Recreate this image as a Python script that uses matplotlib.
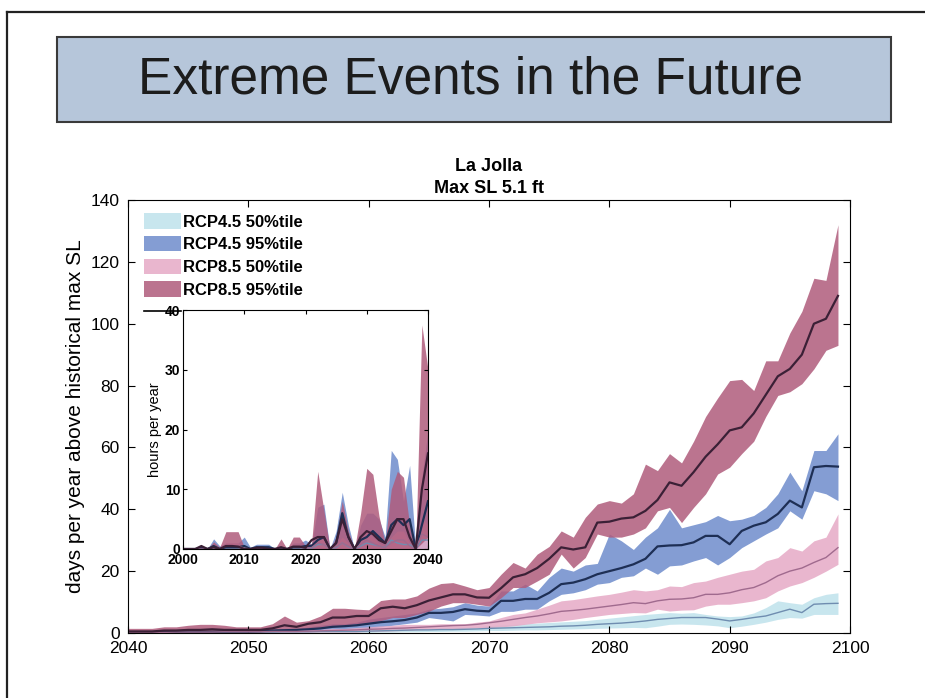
import numpy as np
import matplotlib.pyplot as plt
from matplotlib.patches import Rectangle
from matplotlib.lines import Line2D

plt.rcParams['font.family'] = ['Liberation Sans', 'DejaVu Sans']

# ---------------- main panel data: days per year, 2040-2099 ----------------
years = np.arange(2040, 2100)

# RCP8.5 95th percentile band + median
r95_hi = [1.5, 1.5, 1.5, 2.0, 2.0, 2.5, 2.8, 2.8, 2.5, 2.0,
          2.0, 2.0, 3.0, 5.5, 3.5, 4.0, 5.5, 8.0, 8.0, 7.7,
          7.5, 10.5, 11.0, 11.0, 12.0, 14.5, 16.0, 16.3, 15.2, 14.0,
          14.7, 19.0, 22.8, 21.0, 25.5, 28.0, 33.0, 31.0, 37.4, 41.7,
          42.8, 42.0, 45.0, 54.6, 52.5, 58.0, 55.0, 62.0, 70.0, 76.0,
          81.6, 82.0, 78.4, 88.0, 88.0, 97.0, 104.0, 114.7, 114.0, 132.0]
r95_md = [0.5, 0.5, 0.5, 0.8, 0.8, 1.0, 1.0, 1.2, 1.0, 1.0,
          1.0, 1.0, 1.5, 2.5, 2.0, 3.0, 3.5, 5.0, 5.0, 5.5,
          5.5, 8.0, 8.5, 8.0, 9.0, 10.5, 11.5, 12.5, 12.5, 11.5,
          11.4, 14.5, 18.0, 19.0, 21.0, 24.0, 27.7, 27.0, 27.7, 35.7,
          36.0, 37.0, 37.4, 39.5, 43.0, 48.7, 47.6, 52.0, 57.0, 61.0,
          65.5, 66.5, 71.0, 77.0, 83.0, 85.4, 90.0, 100.0, 101.6, 109.0]
r95_lo = [0.0, 0.0, 0.0, 0.0, 0.1, 0.1, 0.2, 0.2, 0.2, 0.3,
          0.3, 0.3, 0.5, 0.8, 1.0, 1.5, 1.5, 2.0, 2.5, 3.0,
          3.0, 4.0, 5.0, 5.0, 6.0, 7.0, 8.7, 9.8, 9.8, 9.3,
          8.7, 11.4, 14.7, 14.7, 16.8, 19.0, 25.5, 21.0, 24.4, 32.0,
          31.0, 31.0, 32.0, 34.0, 39.5, 40.6, 35.7, 40.6, 45.0, 51.4,
          53.6, 58.0, 62.0, 70.0, 76.8, 78.0, 80.6, 85.4, 91.4, 93.0]

# RCP4.5 95th percentile band + median
b95_hi = [0.5, 0.8, 0.8, 0.8, 0.8, 0.8, 0.8, 0.8, 0.8, 0.8,
          1.0, 1.0, 1.0, 1.5, 1.5, 2.0, 2.5, 3.0, 3.0, 3.5,
          4.5, 5.0, 5.5, 6.0, 6.5, 7.7, 8.0, 8.5, 9.8, 9.0,
          8.7, 13.6, 13.6, 15.8, 13.6, 18.0, 21.0, 20.0, 22.0, 22.5,
          32.0, 29.8, 27.0, 31.0, 34.0, 40.0, 34.0, 35.0, 36.0, 38.0,
          36.3, 36.8, 38.0, 40.6, 45.0, 52.0, 46.0, 59.0, 59.0, 64.4]
b95_md = [0.3, 0.3, 0.3, 0.3, 0.4, 0.4, 0.4, 0.4, 0.5, 0.5,
          0.5, 0.6, 0.8, 0.9, 1.0, 1.2, 1.5, 2.0, 2.2, 2.5,
          3.0, 3.5, 3.8, 4.2, 5.0, 6.5, 6.5, 6.8, 7.7, 7.2,
          7.0, 10.4, 10.4, 11.0, 11.0, 13.0, 15.8, 16.3, 17.4, 19.0,
          20.0, 21.0, 22.2, 24.0, 28.0, 28.3, 28.4, 29.3, 31.4, 31.4,
          28.7, 33.0, 34.7, 35.8, 38.5, 42.8, 40.6, 53.6, 54.0, 53.8]
b95_lo = [0.0, 0.0, 0.0, 0.0, 0.0, 0.1, 0.1, 0.1, 0.2, 0.2,
          0.2, 0.3, 0.3, 0.4, 0.4, 0.5, 0.8, 1.0, 1.2, 1.3,
          1.5, 2.0, 2.5, 3.0, 3.5, 5.0, 4.5, 3.9, 6.0, 5.8,
          5.5, 7.0, 7.0, 7.7, 7.7, 10.4, 12.5, 13.0, 14.0, 15.8,
          16.3, 18.0, 18.5, 21.0, 19.0, 21.7, 22.0, 23.3, 24.4, 22.0,
          24.4, 27.6, 29.8, 32.0, 34.0, 39.5, 36.8, 46.0, 45.0, 42.8]

# RCP8.5 50th percentile band + median
p50_hi = [0.3, 0.3, 0.4, 0.4, 0.5, 0.5, 0.6, 0.6, 0.6, 0.7,
          0.7, 0.8, 0.8, 0.8, 0.9, 1.0, 1.2, 1.5, 1.5, 1.8,
          2.0, 2.3, 2.5, 2.8, 2.8, 2.8, 3.0, 3.0, 3.0, 3.5,
          3.9, 5.0, 6.0, 6.5, 7.7, 9.0, 10.4, 10.8, 11.4, 12.0,
          12.5, 13.2, 14.0, 13.6, 14.0, 15.2, 15.0, 16.3, 16.8, 18.0,
          19.0, 20.0, 20.6, 23.3, 24.4, 27.6, 26.5, 29.8, 31.0, 38.5]
p50_md = [0.2, 0.2, 0.2, 0.2, 0.3, 0.3, 0.3, 0.3, 0.4, 0.4,
          0.4, 0.4, 0.5, 0.5, 0.5, 0.6, 0.7, 0.8, 0.9, 1.0,
          1.2, 1.3, 1.5, 1.6, 1.8, 2.0, 2.2, 2.4, 2.5, 2.8,
          3.3, 3.8, 4.4, 5.0, 5.5, 6.2, 7.0, 7.3, 7.7, 8.2,
          8.7, 9.2, 9.8, 9.5, 10.4, 10.9, 11.0, 11.4, 12.5, 12.5,
          13.0, 14.0, 14.7, 16.3, 18.5, 20.0, 21.0, 22.8, 24.4, 27.6]
p50_lo = [0.0, 0.0, 0.0, 0.0, 0.0, 0.0, 0.1, 0.1, 0.1, 0.1,
          0.1, 0.1, 0.2, 0.2, 0.2, 0.2, 0.3, 0.3, 0.3, 0.3,
          0.5, 0.6, 0.7, 0.8, 1.0, 1.2, 1.3, 1.4, 1.5, 1.6,
          1.7, 2.0, 2.3, 2.8, 3.3, 3.6, 3.9, 4.4, 5.0, 5.5,
          6.0, 6.3, 6.6, 6.5, 7.7, 7.1, 7.4, 7.5, 8.7, 9.3,
          9.3, 9.8, 10.4, 11.4, 13.6, 15.2, 16.3, 18.0, 20.0, 22.2]

# RCP4.5 50th percentile band + median
l50_hi = [0.2, 0.2, 0.2, 0.3, 0.3, 0.3, 0.3, 0.4, 0.4, 0.4,
          0.5, 0.5, 0.5, 0.6, 0.6, 0.7, 0.7, 0.8, 0.8, 0.9,
          1.0, 1.1, 1.2, 1.3, 1.5, 1.6, 1.8, 1.9, 2.0, 2.2,
          2.4, 2.6, 2.8, 3.0, 3.2, 3.4, 3.6, 3.8, 4.0, 4.4,
          4.8, 5.2, 5.6, 6.0, 6.3, 6.6, 6.4, 6.6, 6.0, 5.5,
          5.3, 5.5, 6.5, 8.2, 10.4, 9.8, 9.3, 11.4, 12.5, 13.0]
l50_md = [0.1, 0.1, 0.1, 0.1, 0.2, 0.2, 0.2, 0.2, 0.2, 0.3,
          0.3, 0.3, 0.3, 0.4, 0.4, 0.4, 0.5, 0.5, 0.5, 0.5,
          0.6, 0.7, 0.8, 0.9, 1.0, 1.0, 1.1, 1.1, 1.2, 1.3,
          1.5, 1.6, 1.7, 1.8, 1.9, 2.0, 2.2, 2.3, 2.5, 2.8,
          3.0, 3.2, 3.5, 3.9, 4.4, 4.7, 5.0, 5.0, 5.0, 4.5,
          3.9, 4.4, 5.0, 5.5, 6.6, 7.7, 6.6, 9.3, 9.5, 9.6]
l50_lo = [0.0, 0.0, 0.0, 0.0, 0.0, 0.0, 0.0, 0.0, 0.0, 0.1,
          0.1, 0.1, 0.1, 0.1, 0.1, 0.1, 0.2, 0.2, 0.2, 0.2,
          0.2, 0.3, 0.3, 0.4, 0.4, 0.5, 0.5, 0.6, 0.6, 0.7,
          0.8, 0.8, 0.9, 1.0, 1.0, 1.1, 1.2, 1.3, 1.4, 1.5,
          1.6, 1.7, 1.8, 1.7, 2.2, 2.8, 2.9, 2.8, 2.6, 2.3,
          1.7, 2.2, 2.8, 3.5, 4.4, 5.0, 4.8, 6.0, 6.0, 6.0]

# ---------------- inset data: hours per year, 2000-2040 ----------------
years_in = np.arange(2000, 2041)

ir95_hi = [0, 0, 0, 0.6, 0, 1.2, 0.3, 2.9, 2.9, 2.9,
           0.3, 0, 0.5, 0.5, 0.3, 0, 1.7, 0, 2.0, 2.0,
           0.5, 1.0, 13.0, 6.5, 0, 2.0, 8.0, 3.0, 0, 6.0,
           13.5, 12.5, 5.5, 1.0, 10.0, 13.0, 12.0, 4.0, 0, 37.5, 30.0]
ir95_md = [0, 0, 0, 0.5, 0, 0.3, 0, 0.5, 0.5, 0.4,
           0, 0, 0.2, 0.2, 0, 0, 0.3, 0, 0.4, 0.4,
           0.2, 1.5, 2.0, 2.0, 0, 1.0, 5.0, 2.0, 0, 2.0,
           3.0, 2.5, 1.5, 1.0, 3.0, 5.0, 5.0, 2.0, 0, 10.0, 16.0]
ir95_lo = [0] * 39 + [1.0, 2.0]

ib95_hi = [0, 0, 0, 0.3, 0, 1.7, 0.5, 1.0, 1.0, 1.0,
           2.0, 0.3, 0.8, 0.8, 0.8, 0, 0.5, 0, 1.0, 1.0,
           1.5, 0.8, 7.0, 7.5, 0, 3.0, 9.5, 4.0, 0, 4.0,
           6.0, 6.0, 5.0, 2.0, 16.5, 15.0, 8.0, 14.0, 0, 12.0, 20.0]
ib95_md = [0, 0, 0, 0.2, 0, 0.5, 0, 0.3, 0.3, 0.3,
           0.5, 0, 0.3, 0.3, 0.3, 0, 0, 0, 0.3, 0.3,
           0.5, 0.5, 1.5, 2.0, 0, 1.0, 6.0, 2.0, 0, 1.5,
           2.0, 3.0, 2.0, 1.0, 4.0, 5.0, 4.0, 5.0, 0, 4.0, 8.0]
ib95_lo = [0] * 41

ip50_hi = [0, 0, 0, 0, 0, 0.5, 0, 1.0, 1.0, 1.0,
           0.3, 0, 0.2, 0.2, 0, 0, 0.5, 0, 0.8, 0.8,
           0.3, 0.5, 2.0, 1.5, 0, 0.8, 2.0, 1.0, 0, 1.5,
           3.0, 2.0, 1.0, 0.5, 2.0, 3.0, 3.0, 1.0, 0, 5.0, 4.0]
ip50_md = [v * 0.5 for v in ip50_hi]
ip50_lo = [0] * 41

il50_hi = [0, 0, 0, 0, 0, 0.4, 0, 0.3, 0.3, 0.3,
           0.5, 0, 0.3, 0.3, 0.2, 0, 0, 0, 0.3, 0.3,
           0.4, 0.3, 1.5, 1.5, 0, 0.5, 2.0, 0.8, 0, 1.0,
           2.0, 1.5, 1.0, 0.5, 3.0, 2.0, 1.5, 1.5, 0, 3.0, 3.0]
il50_md = [v * 0.5 for v in il50_hi]
il50_lo = [0] * 41

labels = ['RCP4.5 50%tile', 'RCP4.5 95%tile', 'RCP8.5 50%tile', 'RCP8.5 95%tile']
fill_cols = ['#bfe2ec', '#6e8ccc', '#e6aac6', '#b05c7c']
line_cols = ['#6f8db0', '#1e2f55', '#a06a8e', '#3b2036']
line_w = [1.0, 1.6, 1.0, 1.6]

main_sets = [(l50_lo, l50_md, l50_hi), (b95_lo, b95_md, b95_hi),
             (p50_lo, p50_md, p50_hi), (r95_lo, r95_md, r95_hi)]
inset_sets = [(il50_lo, il50_md, il50_hi), (ib95_lo, ib95_md, ib95_hi),
              (ip50_lo, ip50_md, ip50_hi), (ir95_lo, ir95_md, ir95_hi)]

fig = plt.figure(figsize=(9.25, 6.98), dpi=100)

# slide frame and title banner
fig.add_artist(Line2D([7 / 925, 1.0], [1 - 12 / 698] * 2, color='#222222', lw=1.6))
fig.add_artist(Line2D([7 / 925] * 2, [0.0, 1 - 12 / 698], color='#222222', lw=1.6))
fig.add_artist(Rectangle((57 / 925, 1 - 122 / 698), 834 / 925, 85 / 698,
                         facecolor='#b6c6da', edgecolor='#3a3a3a', lw=1.5))
fig.text(471 / 925, 1 - 80 / 698, 'Extreme Events in the Future',
         ha='center', va='center', fontsize=37, color='#1c1c1c')

# ---- main axes ----
ax = fig.add_axes([128 / 925, 1 - 633 / 698, 722 / 925, 433 / 698])
handles = []
for (lo, md, hi), fc, lab in zip(main_sets, fill_cols, labels):
    h = ax.fill_between(years, lo, hi, color=fc, alpha=0.85, lw=0, label=lab)
    handles.append(h)
for (lo, md, hi), lc, lw in zip(main_sets, line_cols, line_w):
    ax.plot(years, md, color=lc, lw=lw)

ax.set_xlim(2040, 2100)
ax.set_ylim(0, 140)
ax.set_xticks(range(2040, 2101, 10))
ax.set_yticks(range(0, 141, 20))
ax.tick_params(direction='in', top=True, right=True, length=5, labelsize=12.5, pad=6)
ax.set_ylabel('days per year above historical max SL', fontsize=15, labelpad=4)
ax.set_title('La Jolla\nMax SL 5.1 ft', fontsize=13, fontweight='bold', pad=5,
             linespacing=1.4)

# median line entry sits under the inset, only its handle shows
median_h = Line2D([], [], color='black', lw=1.2)
ax.legend(handles + [median_h], labels + [''], loc='upper left',
          frameon=False, prop={'weight': 'bold', 'size': 12},
          handlelength=2.2, handleheight=1.05, handletextpad=0.15,
          labelspacing=0.38, borderaxespad=0.0, bbox_to_anchor=(0.013, 0.985))

# ---- inset axes ----
axi = fig.add_axes([183 / 925, 1 - 549 / 698, 245 / 925, 239 / 698])
axi.set_facecolor('white')
for (lo, md, hi), fc in zip(inset_sets, fill_cols):
    axi.fill_between(years_in, lo, hi, color=fc, alpha=0.85, lw=0)
for (lo, md, hi), lc, lw in zip(inset_sets, line_cols, line_w):
    axi.plot(years_in, md, color=lc, lw=lw)
axi.set_xlim(2000, 2040)
axi.set_ylim(0, 40)
axi.set_xticks(range(2000, 2041, 10))
axi.set_yticks(range(0, 41, 10))
axi.tick_params(direction='in', top=True, right=True, length=3, labelsize=10, pad=2)
axi.tick_params(axis='x', pad=3)
for t in axi.get_xticklabels() + axi.get_yticklabels():
    t.set_fontweight('bold')
axi.set_ylabel('hours per year', fontsize=10.5, labelpad=2)

fig.savefig('out.png', dpi=100)
